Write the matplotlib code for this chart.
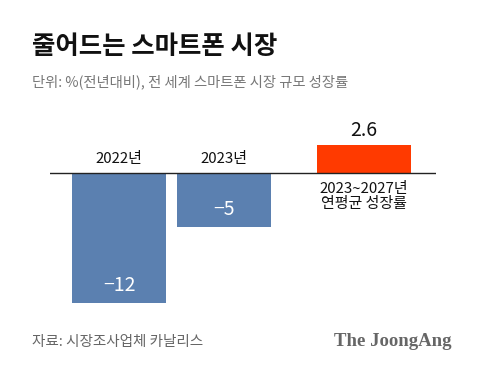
import matplotlib
matplotlib.use("Agg")
import matplotlib.pyplot as plt

plt.rcParams['font.family'] = ['Noto Sans CJK KR', 'DejaVu Sans']

categories = ["2022년", "2023년", "2023~2027년\n연평균 성장률"]
values = [-12, -5, 2.6]
value_labels = ["−12", "−5", "2.6"]
positions = [0, 1, 2.333]
colors = ["#5b80b0", "#5b80b0", "#ff3a00"]

W, H = 480, 372
fig = plt.figure(figsize=(W / 100, H / 100), dpi=100)

# axes in pixel coordinates
ax_left, ax_right, ax_top, ax_bottom = 50, 436, 130, 310
ax = fig.add_axes([ax_left / W, 1 - ax_bottom / H, (ax_right - ax_left) / W, (ax_bottom - ax_top) / H])
px_per_unit_x = 105
px_per_unit_y = 10.8
x0_px = 119
ax.set_xlim(-(x0_px - ax_left) / px_per_unit_x, (ax_right - x0_px) / px_per_unit_x)
zero_px = 173
ax.set_ylim(-(ax_bottom - zero_px) / px_per_unit_y, (zero_px - ax_top) / px_per_unit_y)
ax.axis("off")

ax.bar(positions, values, width=0.895, color=colors, zorder=2)
ax.axhline(0, color="#222222", lw=1.0, zorder=3)

for x, v, lab, cat in zip(positions, values, value_labels, categories):
    if v < 0:
        ax.text(x, v + 1.6, lab, ha="center", va="center", color="white", fontsize=14)
        ax.text(x, 1.3, cat, ha="center", va="center", color="#111111", fontsize=10.8)
    else:
        ax.text(x, v + 1.3, lab, ha="center", va="center", color="#111111", fontsize=14)
        ax.text(x, -0.8, cat, ha="center", va="top", color="#111111", fontsize=10.8, linespacing=1.1)

fig.text(32 / W, 1 - 46 / H, "줄어드는 스마트폰 시장", fontsize=18.3, fontweight="heavy",
         ha="left", va="center", color="#111111")
fig.text(32 / W, 1 - 82 / H, "단위: %(전년대비), 전 세계 스마트폰 시장 규모 성장률", fontsize=10.3,
         ha="left", va="center", color="#777777")
fig.text(32 / W, 1 - 342 / H, "자료: 시장조사업체 카날리스", fontsize=10.5,
         ha="left", va="center", color="#666666")
fig.text(452 / W, 1 - 342 / H, "The JoongAng", fontsize=13.5, fontweight="bold",
         family=["Liberation Serif"], ha="right", va="center", color="#666666")

fig.savefig("out.png", dpi=100, facecolor="white")
